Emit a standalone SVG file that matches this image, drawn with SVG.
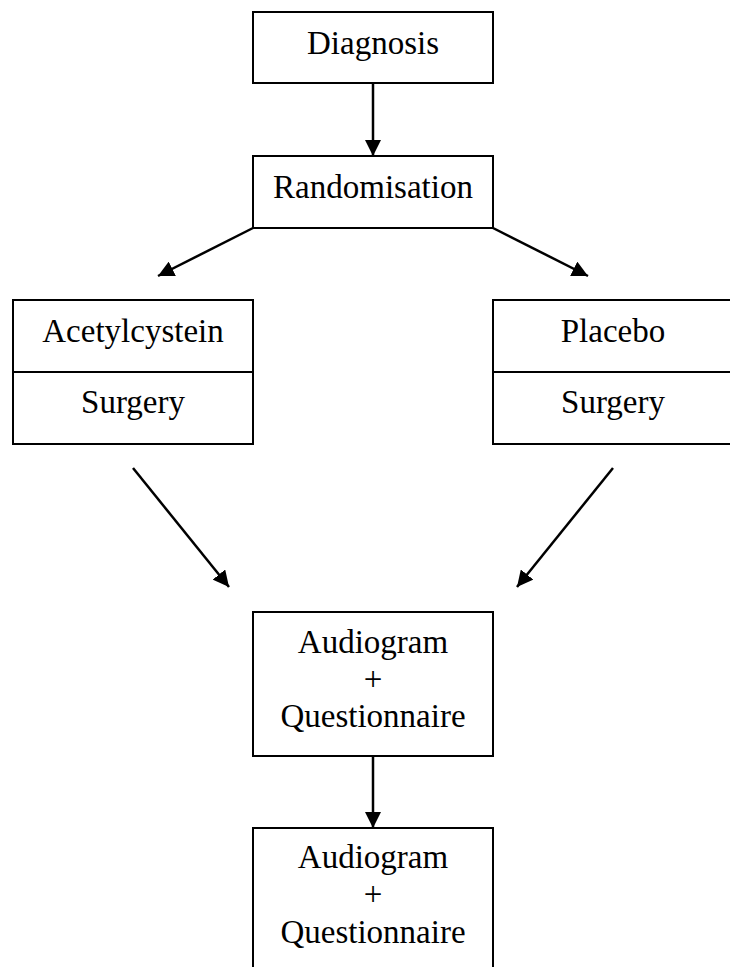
<svg xmlns="http://www.w3.org/2000/svg" width="730" height="967" viewBox="0 0 730 967">
<style>
.box{fill:#fff;stroke:#000;stroke-width:2}
.t{font-family:"Liberation Serif","Times New Roman",serif;font-size:33px;fill:#000;text-anchor:middle}
.c{stroke:#000;stroke-width:2.5;fill:none;marker-end:url(#ah)}
</style>
<defs>
<marker id="ah" markerUnits="userSpaceOnUse" markerWidth="16" markerHeight="16" viewBox="0 0 16 16" refX="16" refY="8" orient="auto">
<path d="M0,0 L16,8 L0,16 Z" fill="#000"/>
</marker>
</defs>
<g id="connectors">
<line class="c" x1="373" y1="83" x2="373" y2="156"/>
<line class="c" x1="253" y1="228" x2="158" y2="276"/>
<line class="c" x1="493" y1="228" x2="588" y2="276"/>
<line class="c" x1="133" y1="468" x2="229" y2="587"/>
<line class="c" x1="613" y1="468" x2="517" y2="587"/>
<line class="c" x1="373" y1="756" x2="373" y2="828"/>
</g>
<g id="diagnosis">
<rect class="box" x="253" y="12" width="240" height="71"/>
<text class="t" x="373" y="54">Diagnosis</text>
</g>
<g id="randomisation">
<rect class="box" x="253" y="156" width="240" height="72"/>
<text class="t" x="373" y="198">Randomisation</text>
</g>
<g id="acetylcystein">
<rect class="box" x="13" y="300" width="240" height="144"/>
<line x1="13" y1="372" x2="253" y2="372" stroke="#000" stroke-width="2"/>
<text class="t" x="133" y="342">Acetylcystein</text>
<text class="t" x="133" y="413">Surgery</text>
</g>
<g id="placebo">
<rect class="box" x="493" y="300" width="240" height="144"/>
<line x1="493" y1="372" x2="733" y2="372" stroke="#000" stroke-width="2"/>
<text class="t" x="613" y="342">Placebo</text>
<text class="t" x="613" y="413">Surgery</text>
</g>
<g id="followup1">
<rect class="box" x="253" y="612" width="240" height="144"/>
<text class="t" x="373" y="653">Audiogram</text>
<text class="t" x="373" y="690">+</text>
<text class="t" x="373" y="727">Questionnaire</text>
</g>
<g id="followup2">
<rect class="box" x="253" y="828" width="240" height="150"/>
<text class="t" x="373" y="868">Audiogram</text>
<text class="t" x="373" y="905">+</text>
<text class="t" x="373" y="943">Questionnaire</text>
</g>
</svg>
